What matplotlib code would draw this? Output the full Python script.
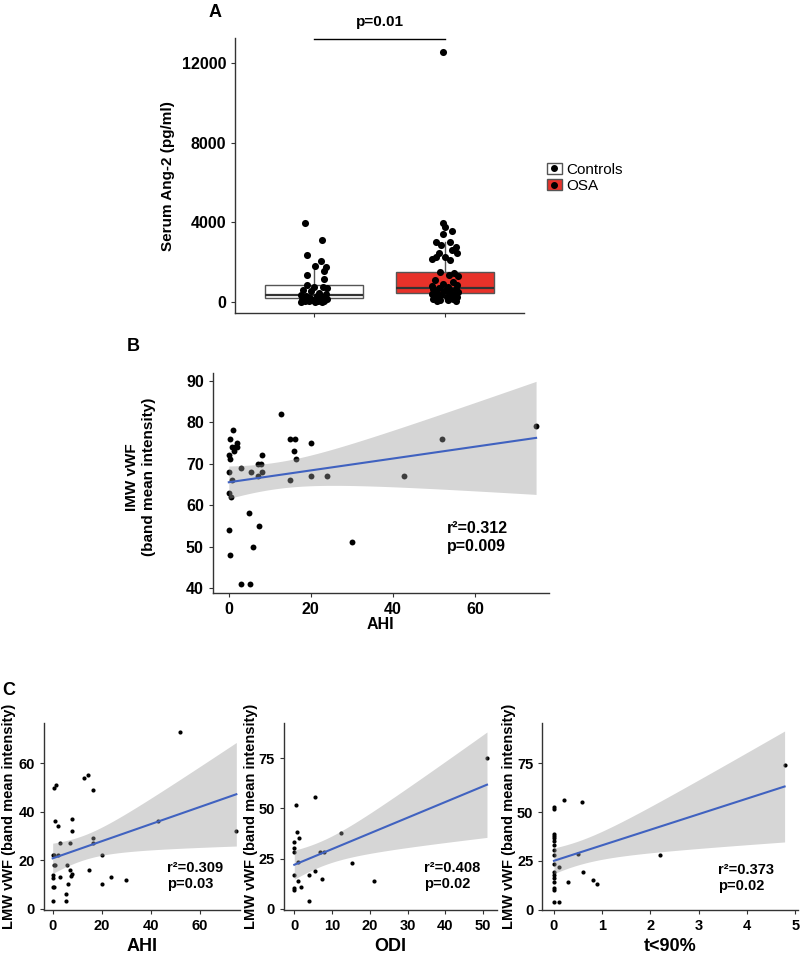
import numpy as np
import matplotlib
matplotlib.use("Agg")
import matplotlib.pyplot as plt
from matplotlib.patches import Patch
from matplotlib.lines import Line2D
from matplotlib.legend_handler import HandlerTuple

plt.rcParams['font.family'] = ['Liberation Sans', 'DejaVu Sans']
plt.rcParams['font.weight'] = 'bold'

# ---- panel A: serum Ang-2 ----
groups = ['Controls', 'OSA']
ctrl_vals = [3950, 3110, 2360, 2070, 1800, 1740, 1560, 1355, 1170, 840, 770, 760,
             700, 620, 560, 480, 420, 380, 330, 290, 250, 220, 180, 150, 120, 100,
             80, 60, 50, 40, 30, 20, 10]
ctrl_jit = [-0.07, 0.06, -0.05, 0.05, 0.01, 0.09, 0.08, -0.05, 0.08, -0.05, 0.0, 0.07,
            0.1, -0.08, -0.02, 0.04, 0.09, -0.1, 0.02, -0.06, 0.07, -0.03, 0.1, 0.05,
            -0.09, -0.01, 0.03, -0.07, 0.08, -0.04, 0.01, 0.06, -0.1]
osa_vals = [12550, 3950, 3780, 3580, 3410, 3030, 3030, 2860, 2780, 2610, 2440, 2440,
            2240, 2140, 2240, 2110, 1520, 1470, 1350, 1300, 1100, 1000, 900, 850, 800,
            760, 720, 680, 640, 600, 560, 520, 480, 450, 420, 390, 360, 330, 300, 270,
            240, 210, 180, 150, 120, 100, 80, 60]
osa_jit = [-0.02, -0.02, 0.0, 0.05, -0.02, -0.07, 0.04, -0.03, 0.08, 0.05, 0.09, -0.05,
           -0.07, -0.1, 0.0, 0.04, -0.04, 0.07, 0.03, 0.1, -0.08, 0.06, -0.02, 0.09, -0.1,
           0.02, -0.05, 0.08, -0.09, 0.04, -0.01, 0.1, -0.06, 0.03, -0.1, 0.07, -0.03,
           0.05, -0.08, 0.01, 0.09, -0.05, 0.06, -0.09, 0.02, -0.04, 0.08, -0.06]
# box stats: q1, median, q3, whisker low, whisker high
box_q1 = [185, 435]
box_med = [370, 690]
box_q3 = [840, 1520]
box_lo = [0, 40]
box_hi = [1860, 3030]
box_fill = ['white', '#E8322A']

# ---- panel B: IMW vWF vs AHI ----
b_ahi = [0, 0, 0.2, 0.4, 0, 0.5, 0, 0.2, 0.7, 0.9, 1, 1.3, 1.6, 1.9, 2, 2.9, 2.9, 5.1,
         5, 5.5, 5.9, 7.2, 7.2, 7.4, 7.9, 8, 8, 12.8, 15, 15, 16.2, 16, 16.3, 20, 20,
         24, 30, 42.8, 51.9, 74.9]
b_imw = [68, 72, 71, 76, 63, 62, 54, 48, 66, 74, 78, 73, 74, 75, 74, 69, 41, 41,
         58, 68, 50, 67, 70, 55, 70, 72, 68, 82, 76, 66, 76, 73, 71, 75, 67,
         67, 51, 67, 76, 79]

# ---- panel C: LMW vWF ----
c1_ahi = [52, 75, 43, 12.8, 14.3, 16.3, 0.5, 1.4, 1.1, 2, 7.9, 8, 3, 7, 16.3, 16.3,
          0, 0.7, 2, 0.7, 1.1, 5.7, 20, 7, 7.8, 7.5, 15, 3, 0, 0.3, 0, 0.4, 6.3,
          5.3, 5.3, 0, 20, 24, 30]
c1_lmw = [73, 32, 36, 54, 55, 49, 50, 51, 36, 34, 37, 32, 27, 27, 29, 27,
          22, 22, 22, 18, 18, 18, 22, 16, 14.5, 13.4, 16, 13, 14, 12.7, 9, 9, 10,
          6, 3, 3, 10, 13, 12]
c2_odi = [51, 5.5, 0.4, 0.7, 1.2, 0, 0, 0, 12.4, 6.8, 7.8, 0.9, 15.3, 5.6, 0, 4,
          0.9, 7.4, 1.9, 0, 0, 21, 3.9]
c2_lmw = [75, 55.7, 51.6, 38.3, 35.3, 33.3, 30.3, 28.2, 37.5, 28.2, 28.2, 23.2, 23,
          18.9, 17, 17, 13.9, 15, 10.8, 10.4, 9.5, 13.9, 3.8]
c3_t90 = [4.78, 2.19, 0.2, 0.59, 0, 0, 0, 0, 0, 0, 0, 0, 0, 0, 0.5, 0, 0, 0, 0, 0,
          0, 0.1, 0.6, 0.3, 0.8, 0.9, 0, 0.1]
c3_lmw = [74.3, 28.3, 56.3, 55.2, 52.5, 51.5, 38.6, 37.6, 36.5, 35, 33.3, 30.5, 28.1,
          23.3, 28.5, 19.2, 17.8, 16.1, 14.4, 11, 10.1, 22.1, 19.2, 14.2, 15.3, 13.2,
          4.1, 4.1]


def style_axis(ax):
    for s in ['top', 'right']:
        ax.spines[s].set_visible(False)
    for s in ['left', 'bottom']:
        ax.spines[s].set_color('#333333')
        ax.spines[s].set_linewidth(1.0)
    ax.tick_params(colors='#333333', length=3, width=0.8, labelcolor='black')


def reg_plot(ax, x, y, size):
    x = np.asarray(x, float)
    y = np.asarray(y, float)
    b, a = np.polyfit(x, y, 1)
    n = len(x)
    s = np.sqrt(np.sum((y - (a + b * x)) ** 2) / (n - 2))
    xs = np.linspace(x.min(), x.max(), 100)
    se = s * np.sqrt(1 / n + (xs - x.mean()) ** 2 / np.sum((x - x.mean()) ** 2))
    t = 2.03
    ax.scatter(x, y, s=size, color='black', zorder=2, linewidths=0)
    ax.fill_between(xs, a + b * xs - t * se, a + b * xs + t * se,
                    color='#999999', alpha=0.4, lw=0, zorder=3)
    ax.plot(xs, a + b * xs, color='#4062C0', lw=1.5, zorder=4)


fig = plt.figure(figsize=(8, 9.61), dpi=100)

# Panel A
axA = fig.add_axes([0.294, 0.674, 0.361, 0.2865])
stats = []
for i in range(2):
    stats.append(dict(q1=box_q1[i], med=box_med[i], q3=box_q3[i],
                      whislo=box_lo[i], whishi=box_hi[i], fliers=[]))
bp = axA.bxp(stats, positions=[1, 2], widths=0.75, patch_artist=True,
             showcaps=False, showfliers=False,
             boxprops=dict(edgecolor='#555555', linewidth=1.0),
             medianprops=dict(color='#333333', linewidth=1.6),
             whiskerprops=dict(color='#555555', linewidth=1.0))
for patch, fc in zip(bp['boxes'], box_fill):
    patch.set_facecolor(fc)
axA.scatter(1 + np.array(ctrl_jit), ctrl_vals, s=26, color='black', zorder=3, linewidths=0)
axA.scatter(2 + np.array(osa_jit), osa_vals, s=26, color='black', zorder=3, linewidths=0)
axA.set_xlim(0.4, 2.6)
axA.set_ylim(-560, 13250)
axA.set_yticks([0, 4000, 8000, 12000])
axA.set_xticks([1, 2])
axA.set_xticklabels(['', ''])
style_axis(axA)
axA.tick_params(labelsize=11.5)
axA.set_ylabel('Serum Ang-2 (pg/ml)', fontsize=11, fontweight='bold')
axA.yaxis.set_label_coords(-0.21, 0.5)
axA.plot([1, 2], [13200, 13200], color='black', lw=1.0, clip_on=False)
axA.text(1.5, 13700, 'p=0.01', ha='center', va='bottom', fontsize=11, fontweight='bold')

handles = [(Patch(facecolor=c, edgecolor='#555555'),
            Line2D([], [], marker='o', color='black', ls='', ms=4)) for c in box_fill]
fig.legend(handles, groups, handler_map={tuple: HandlerTuple(ndivide=1)},
           loc='upper left', bbox_to_anchor=(0.666, 0.845), frameon=False,
           prop=dict(size=11, weight='normal'), handlelength=1.0, handletextpad=0.3,
           labelspacing=0.15)

fig.text(0.269, 0.9875, 'A', fontsize=13, fontweight='bold', ha='center', va='center')

# Panel B
axB = fig.add_axes([0.266, 0.383, 0.42, 0.229])
reg_plot(axB, b_ahi, b_imw, 18)
axB.set_xlim(-3.9, 78)
axB.set_ylim(38.8, 91.9)
axB.set_xticks([0, 20, 40, 60])
axB.set_yticks([40, 50, 60, 70, 80, 90])
style_axis(axB)
axB.tick_params(labelsize=11.5)
axB.set_xlabel('AHI', fontsize=11.5, fontweight='bold')
axB.xaxis.set_label_coords(0.5, -0.11)
axB.set_ylabel('IMW vWF\n(band mean intensity)', fontsize=11, fontweight='bold')
axB.yaxis.set_label_coords(-0.17, 0.527)
axB.text(53.2, 54.3, 'r²=0.312', fontsize=11.5, fontweight='bold', va='center')
axB.text(53.2, 49.9, 'p=0.009', fontsize=11.5, fontweight='bold', va='center')
fig.text(0.166, 0.639, 'B', fontsize=13, fontweight='bold', ha='center', va='center')

# Panel C
fig.text(0.011, 0.281, 'C', fontsize=13, fontweight='bold', ha='center', va='center')
c_specs = [
    (c1_ahi, c1_lmw, [0.055, 0.053, 0.245, 0.1946], (-3.55, 76.5), (-0.55, 76.6),
     [0, 20, 40, 60], [0, 20, 40, 60], 'AHI', (46.7, 17, 10.4), 'r²=0.309', 'p=0.03', -0.145),
    (c2_odi, c2_lmw, [0.355, 0.053, 0.266, 0.1946], (-2.72, 53.6), (-0.65, 92.4),
     [0, 10, 20, 30, 40, 50], [0, 25, 50, 75], 'ODI', (34.3, 20.1, 12.1), 'r²=0.408', 'p=0.02', -0.12),
    (c3_t90, c3_lmw, [0.678, 0.053, 0.319, 0.1946], (-0.24, 5.05), (-0.15, 95.6),
     [0, 1, 2, 3, 4, 5], [0, 25, 50, 75], 't<90%', (3.40, 20.4, 12.2), 'r²=0.373', 'p=0.02', -0.105),
]
for xv, yv, pos, xl, yl, xt, yt, xlab, tpos, rtxt, ptxt, ylx in c_specs:
    ax = fig.add_axes(pos)
    reg_plot(ax, xv, yv, 9)
    ax.set_xlim(*xl)
    ax.set_ylim(*yl)
    ax.set_xticks(xt)
    ax.set_yticks(yt)
    style_axis(ax)
    ax.tick_params(labelsize=10.5)
    ax.set_xlabel(xlab, fontsize=13, fontweight='bold')
    ax.xaxis.set_label_coords(0.5, -0.15)
    ax.set_ylabel('LMW vWF (band mean intensity)', fontsize=10.5, fontweight='bold')
    ax.yaxis.set_label_coords(ylx, 0.5)
    ax.text(tpos[0], tpos[1], rtxt, fontsize=10.5, fontweight='bold', va='center')
    ax.text(tpos[0], tpos[2], ptxt, fontsize=10.5, fontweight='bold', va='center')

fig.savefig('out.png', dpi=100)
